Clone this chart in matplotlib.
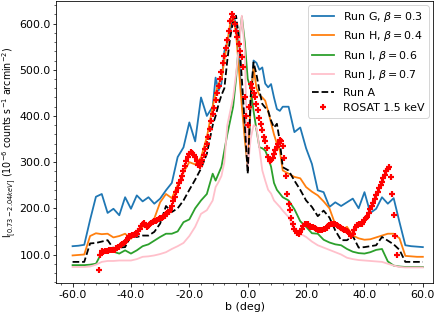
import matplotlib
matplotlib.use("Agg")
import matplotlib.pyplot as plt
import numpy as np
from matplotlib.ticker import MultipleLocator, AutoMinorLocator, FormatStrFormatter

# galactic latitude grid of the simulation runs (deg)
b_sim = ([-60, -58, -56, -54, -52, -50, -48, -46, -44, -42, -40, -38, -36, -34, -32,
          -30, -28, -26, -24, -22, -20, -18, -16, -14, -12]
         + list(range(-11, 12))
         + [12, 14, 16, 18, 20, 22, 24, 26, 28, 30, 32, 34, 36, 38, 40, 42, 44, 46,
            48, 50, 52, 54, 56, 58, 60])

run_g = [118, 119, 121, 175, 225, 231, 190, 199, 185, 224, 199, 228, 215, 224, 210,
         221, 239, 255, 311, 332, 386, 345, 440, 400, 420,
         483, 455, 470, 540, 560, 584, 617, 600, 520, 440, 360, 290, 420, 520, 515, 500,
         505, 470, 462, 469, 440, 415, 411,
         420, 420, 365, 375, 330, 296, 239, 235, 203, 213, 205, 213, 221, 200, 235, 190,
         199, 224, 210, 222, 170, 120, 118, 117, 116]

run_h = [98, 99, 100, 140, 146, 144, 145, 137, 140, 145, 134, 150, 160, 165, 178,
         213, 231, 222, 250, 278, 300, 295, 310, 354, 420,
         450, 470, 480, 520, 560, 600, 615, 580, 500, 420, 350, 290, 430, 505, 460, 445,
         440, 433, 410, 385, 360, 340, 325,
         282, 275, 268, 265, 246, 236, 228, 215, 200, 165, 152, 160, 141, 135, 132, 133,
         137, 141, 145, 145, 135, 97, 96, 95, 95]

run_i = [77, 77, 77, 78, 80, 104, 109, 106, 102, 109, 102, 109, 118, 122, 130,
         138, 145, 145, 150, 170, 176, 200, 217, 231, 275,
         260, 275, 290, 325, 360, 390, 420, 480, 560, 615, 560, 480, 460, 411, 370, 332,
         330, 325, 310, 290, 255, 240, 232,
         224, 217, 198, 172, 160, 146, 145, 132, 126, 122, 120, 112, 106, 103, 102, 105,
         110, 112, 85, 76, 74, 73, 73, 73, 73]

run_j = [73, 73, 73, 74, 78, 84, 86, 86, 87, 87, 87, 90, 95, 96, 98,
         101, 105, 112, 118, 125, 140, 160, 188, 196, 217,
         246, 257, 270, 300, 380, 410, 440, 490, 550, 617, 540, 285, 350, 380, 375, 330,
         282, 260, 240, 232, 217, 210, 203,
         195, 181, 152, 145, 138, 128, 120, 115, 110, 105, 100, 93, 90, 88, 87, 86,
         85, 84, 80, 76, 73, 72, 72, 72, 72]

run_a = [84, 84, 84, 124, 125, 128, 131, 113, 115, 116, 141, 138, 141, 141, 149,
         167, 205, 192, 200, 217, 240, 262, 286, 318, 380,
         400, 425, 445, 460, 520, 570, 605, 617, 570, 480, 380, 275, 440, 516, 490, 455,
         426, 418, 411, 390, 375, 383, 345,
         289, 282, 260, 240, 217, 203, 183, 195, 180, 152, 131, 131, 140, 115, 116, 118,
         120, 138, 130, 122, 110, 84, 84, 84, 84]

# ROSAT 1.5 keV profile, sampled every 0.5 deg from -51 to 51
b_rosat = np.arange(-51, 51.25, 0.5)
rosat = [66, 100, 108, 105, 107, 108, 108, 109, 110, 110, 109, 110, 113, 116, 117,
         120, 122, 124, 128, 132, 136, 140, 141, 142, 143, 145, 145, 150, 156, 162,
         167, 168, 164, 160, 162, 166, 168, 170, 172, 173, 174, 176, 178, 180, 181,
         184, 188, 190, 193, 197, 205, 215, 225, 235, 245, 255, 262, 270, 280, 292,
         302, 312, 318, 321, 320, 316, 311, 303, 294, 292, 298, 305, 315, 328, 340,
         354, 372, 390, 405, 418, 435, 450, 465, 480, 495, 515, 530, 548, 565, 585,
         606, 620, 615, 600, 585, 570, 555, 540, 527, 505, 440, 400, 380, 420, 470,
         460, 450, 440, 425, 412, 395, 383, 370, 355, 345, 330, 311, 303, 305, 310,
         318, 326, 332, 340, 347, 345, 335, 310, 270, 231, 210, 196, 180, 165, 155,
         150, 147, 145, 148, 155, 162, 166, 167, 165, 162, 160, 160, 160, 158, 155,
         153, 152, 153, 154, 155, 156, 158, 161, 164, 166, 167, 167, 165, 163, 161,
         159, 157, 155, 153, 152, 151, 148, 144, 141, 145, 152, 160, 163, 165, 166,
         167, 170, 174, 178, 182, 190, 198, 205, 212, 220, 228, 236, 243, 250, 258,
         266, 273, 280, 286, 289, 268, 230, 185, 140, 100]

labels = [r'Run G, $\beta=0.3$', r'Run H, $\beta=0.4$', r'Run I, $\beta=0.6$',
          r'Run J, $\beta=0.7$']
colors = ['tab:blue', 'tab:orange', 'tab:green', 'pink']


def main():
    plt.rcParams['font.size'] = 11
    fig = plt.figure(figsize=(437 / 72, 316 / 72), dpi=72)
    ax = fig.add_axes([0.128, 0.104, 0.863, 0.893])

    for y, lab, c in zip([run_g, run_h, run_i, run_j], labels, colors):
        ax.plot(b_sim, y, color=c, lw=1.8, label=lab)
    ax.plot(b_sim, run_a, 'k--', lw=1.8, label='Run A')
    ax.plot(b_rosat, rosat, ls='none', marker='+', color='red', ms=6, mew=2.2,
            label='ROSAT 1.5 keV')

    ax.set_xlim(-65.7, 63.5)
    ax.set_ylim(38, 649)
    ax.xaxis.set_major_locator(MultipleLocator(20))
    ax.yaxis.set_major_locator(MultipleLocator(100))
    ax.xaxis.set_minor_locator(AutoMinorLocator(5))
    ax.yaxis.set_minor_locator(AutoMinorLocator(5))
    ax.xaxis.set_major_formatter(FormatStrFormatter('%.1f'))
    ax.yaxis.set_major_formatter(FormatStrFormatter('%.1f'))
    ax.tick_params(axis='y', which='major', pad=1.5)

    ax.set_xlabel('b (deg)', labelpad=2)
    ax.set_ylabel(r'I$_{[0.73-2.04 keV]}$ (10$^{-6}$ counts s$^{-1}$ arcmin$^{-2}$)',
                  fontsize=9.5)
    ax.yaxis.set_label_coords(-0.101, 0.5)
    ax.legend(loc='upper right', fontsize=11, borderaxespad=0.4)

    fig.savefig('out.png', dpi=72)


if __name__ == "__main__":
    main()
